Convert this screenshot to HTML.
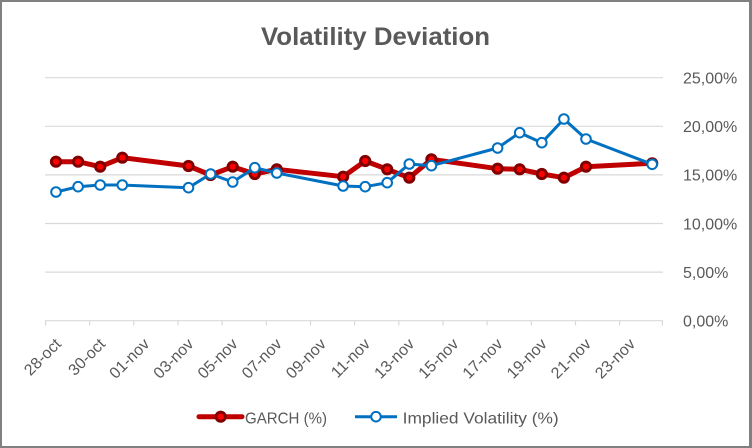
<!DOCTYPE html>
<html>
<head>
<meta charset="utf-8">
<style>
  html,body{margin:0;padding:0;background:#fff;}
  #c{position:relative;width:752px;height:448px;overflow:hidden;background:#fff;}
  #frame{position:absolute;left:0;top:0;width:752px;height:448px;box-sizing:border-box;
    border-left:2px solid #808080;border-top:2px solid #808080;border-right:3px solid #808080;border-bottom:2px solid #808080;}
  svg{position:absolute;left:0;top:0;}
  text{font-family:"Liberation Sans",Arial,sans-serif;fill:#595959;}
</style>
</head>
<body>
<div id="c">
<svg width="752" height="448" viewBox="0 0 752 448" xmlns="http://www.w3.org/2000/svg">
  <!-- title -->
  <text x="375.5" y="45" text-anchor="middle" font-size="25" font-weight="bold" textLength="229" lengthAdjust="spacingAndGlyphs">Volatility Deviation</text>

  <!-- gridlines -->
  <g stroke="#D9D9D9" stroke-width="1.2">
    <line x1="45" y1="77.7" x2="663" y2="77.7"/>
    <line x1="45" y1="126.3" x2="663" y2="126.3"/>
    <line x1="45" y1="174.9" x2="663" y2="174.9"/>
    <line x1="45" y1="223.5" x2="663" y2="223.5"/>
    <line x1="45" y1="272.1" x2="663" y2="272.1"/>
    <line x1="45" y1="320.7" x2="663" y2="320.7"/>
  </g>
  <!-- x ticks -->
  <g stroke="#D9D9D9" stroke-width="1.2">
    <line x1="45.5" y1="320.7" x2="45.5" y2="325.5"/>
    <line x1="89.6" y1="320.7" x2="89.6" y2="325.5"/>
    <line x1="133.8" y1="320.7" x2="133.8" y2="325.5"/>
    <line x1="178" y1="320.7" x2="178" y2="325.5"/>
    <line x1="222.1" y1="320.7" x2="222.1" y2="325.5"/>
    <line x1="266.3" y1="320.7" x2="266.3" y2="325.5"/>
    <line x1="310.5" y1="320.7" x2="310.5" y2="325.5"/>
    <line x1="354.6" y1="320.7" x2="354.6" y2="325.5"/>
    <line x1="398.8" y1="320.7" x2="398.8" y2="325.5"/>
    <line x1="443" y1="320.7" x2="443" y2="325.5"/>
    <line x1="487.1" y1="320.7" x2="487.1" y2="325.5"/>
    <line x1="531.3" y1="320.7" x2="531.3" y2="325.5"/>
    <line x1="575.5" y1="320.7" x2="575.5" y2="325.5"/>
    <line x1="619.6" y1="320.7" x2="619.6" y2="325.5"/>
    <line x1="662.5" y1="320.7" x2="662.5" y2="325.5"/>
  </g>

  <!-- y labels -->
  <g font-size="16">
    <text x="683" y="83.5">25,00%</text>
    <text x="683" y="132.1">20,00%</text>
    <text x="683" y="180.7">15,00%</text>
    <text x="683" y="229.3">10,00%</text>
    <text x="683" y="277.9">5,00%</text>
    <text x="683" y="326.5">0,00%</text>
  </g>

  <!-- x labels -->
  <g font-size="16" text-anchor="end">
    <text transform="translate(62,345) rotate(-45)">28-oct</text>
    <text transform="translate(106.2,345) rotate(-45)">30-oct</text>
    <text transform="translate(150.4,345) rotate(-45)">01-nov</text>
    <text transform="translate(194.5,345) rotate(-45)">03-nov</text>
    <text transform="translate(238.7,345) rotate(-45)">05-nov</text>
    <text transform="translate(282.8,345) rotate(-45)">07-nov</text>
    <text transform="translate(327,345) rotate(-45)">09-nov</text>
    <text transform="translate(371.2,345) rotate(-45)">11-nov</text>
    <text transform="translate(415.3,345) rotate(-45)">13-nov</text>
    <text transform="translate(459.5,345) rotate(-45)">15-nov</text>
    <text transform="translate(503.6,345) rotate(-45)">17-nov</text>
    <text transform="translate(547.8,345) rotate(-45)">19-nov</text>
    <text transform="translate(592,345) rotate(-45)">21-nov</text>
    <text transform="translate(636.1,345) rotate(-45)">23-nov</text>
  </g>

  <!-- GARCH series -->
  <polyline fill="none" stroke="#C00000" stroke-width="5" stroke-linejoin="round" stroke-linecap="round"
    points="56,161.7 78.1,161.7 100.2,166.7 122.3,157.7 188.5,166 210.6,175 232.7,166.7 254.8,174 276.8,169.3 343.1,176.7 365.2,161 387.2,169.3 409.3,177.7 431.4,159.3 497.6,168.7 519.7,169.3 541.8,174 563.9,177.7 586,166.7 652.2,163.3"/>
  <g fill="#FF0000" stroke="#800000" stroke-width="3">
    <circle cx="56" cy="161.7" r="4.6"/>
    <circle cx="78.1" cy="161.7" r="4.6"/>
    <circle cx="100.2" cy="166.7" r="4.6"/>
    <circle cx="122.3" cy="157.7" r="4.6"/>
    <circle cx="188.5" cy="166" r="4.6"/>
    <circle cx="210.6" cy="175" r="4.6"/>
    <circle cx="232.7" cy="166.7" r="4.6"/>
    <circle cx="254.8" cy="174" r="4.6"/>
    <circle cx="276.8" cy="169.3" r="4.6"/>
    <circle cx="343.1" cy="176.7" r="4.6"/>
    <circle cx="365.2" cy="161" r="4.6"/>
    <circle cx="387.2" cy="169.3" r="4.6"/>
    <circle cx="409.3" cy="177.7" r="4.6"/>
    <circle cx="431.4" cy="159.3" r="4.6"/>
    <circle cx="497.6" cy="168.7" r="4.6"/>
    <circle cx="519.7" cy="169.3" r="4.6"/>
    <circle cx="541.8" cy="174" r="4.6"/>
    <circle cx="563.9" cy="177.7" r="4.6"/>
    <circle cx="586" cy="166.7" r="4.6"/>
    <circle cx="652.2" cy="163.3" r="4.6"/>
  </g>

  <!-- Implied volatility series -->
  <polyline fill="none" stroke="#0070C0" stroke-width="3" stroke-linejoin="round" stroke-linecap="round"
    points="56,192 78.1,186.7 100.2,185 122.3,185 188.5,187.7 210.6,174 232.7,182 254.8,167.7 276.8,173 343.1,186 365.2,186.7 387.2,182.7 409.3,164 431.4,165.7 497.6,148 519.7,132.7 541.8,142.7 563.9,119 586,139 652.2,164.3"/>
  <g fill="#FFFFFF" stroke="#0070C0" stroke-width="2">
    <circle cx="56" cy="192" r="4.8"/>
    <circle cx="78.1" cy="186.7" r="4.8"/>
    <circle cx="100.2" cy="185" r="4.8"/>
    <circle cx="122.3" cy="185" r="4.8"/>
    <circle cx="188.5" cy="187.7" r="4.8"/>
    <circle cx="210.6" cy="174" r="4.8"/>
    <circle cx="232.7" cy="182" r="4.8"/>
    <circle cx="254.8" cy="167.7" r="4.8"/>
    <circle cx="276.8" cy="173" r="4.8"/>
    <circle cx="343.1" cy="186" r="4.8"/>
    <circle cx="365.2" cy="186.7" r="4.8"/>
    <circle cx="387.2" cy="182.7" r="4.8"/>
    <circle cx="409.3" cy="164" r="4.8"/>
    <circle cx="431.4" cy="165.7" r="4.8"/>
    <circle cx="497.6" cy="148" r="4.8"/>
    <circle cx="519.7" cy="132.7" r="4.8"/>
    <circle cx="541.8" cy="142.7" r="4.8"/>
    <circle cx="563.9" cy="119" r="4.8"/>
    <circle cx="586" cy="139" r="4.8"/>
    <circle cx="652.2" cy="164.3" r="4.8"/>
  </g>

  <!-- legend -->
  <line x1="199" y1="416.7" x2="242" y2="416.7" stroke="#C00000" stroke-width="5" stroke-linecap="round"/>
  <circle cx="220.7" cy="416.7" r="4.6" fill="#FF0000" stroke="#800000" stroke-width="3"/>
  <text x="245" y="423.3" font-size="16" textLength="82" lengthAdjust="spacingAndGlyphs">GARCH (%)</text>

  <line x1="355" y1="416.7" x2="397" y2="416.7" stroke="#0070C0" stroke-width="3"/>
  <circle cx="376" cy="416.7" r="4.8" fill="#FFFFFF" stroke="#0070C0" stroke-width="2"/>
  <text x="402.7" y="423.3" font-size="16" textLength="156" lengthAdjust="spacingAndGlyphs">Implied Volatility (%)</text>
</svg>
<div id="frame"></div>
</div>
</body>
</html>
